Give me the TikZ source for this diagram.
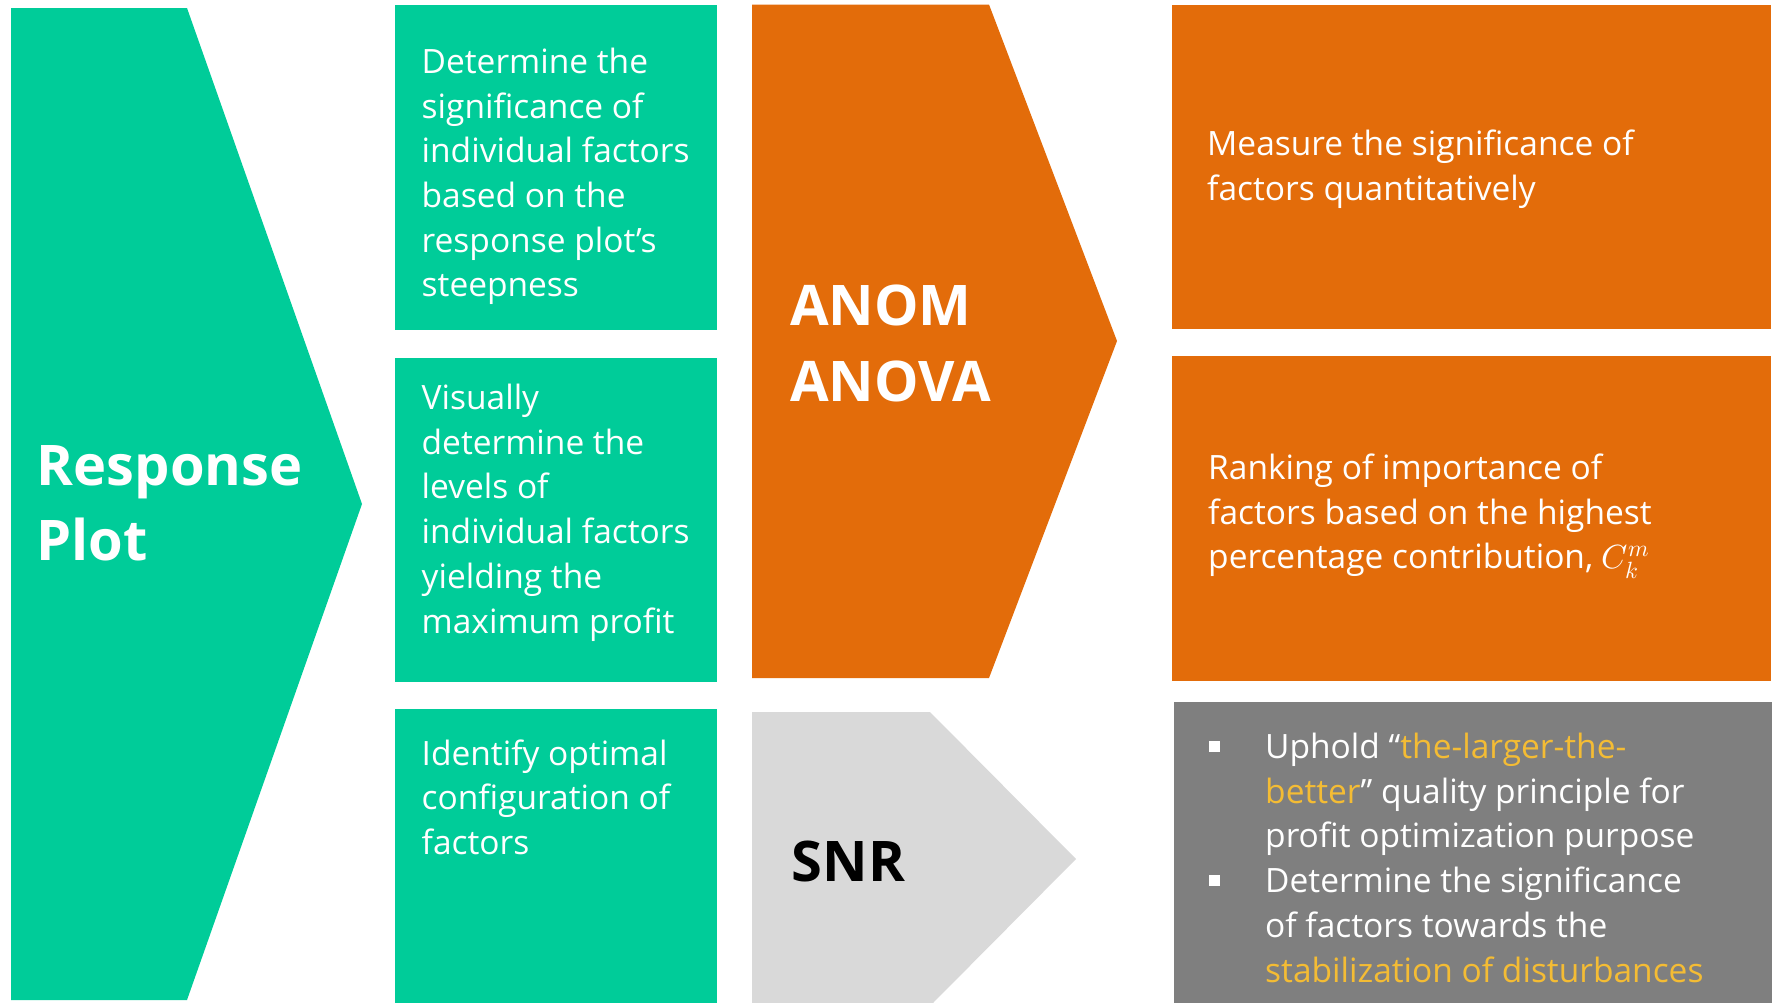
\documentclass[tikz,border=0pt]{standalone}
\usepackage{fontspec}
\usepackage{unicode-math}
\setmainfont{Open Sans}
\setmathfont{Latin Modern Math}
\definecolor{rpgreen}{RGB}{0,204,153}
\definecolor{anomorange}{RGB}{227,108,10}
\definecolor{snrgray}{RGB}{217,217,217}
\definecolor{notegray}{RGB}{127,127,127}
\definecolor{gold}{RGB}{244,188,52}
% first-line baseline is the node's base, further lines hang below
\newcommand\txtblock[2]{\parbox[t]{#1pt}{\raggedright #2}}
\begin{document}
\begin{tikzpicture}[x=1pt,y=-1pt,
  bodytext/.style={anchor=base west,inner sep=0pt,text=white,
    font=\fontsize{33.5}{44.7}\selectfont},
  headtext/.style={anchor=base west,inner sep=0pt,text=white,
    font=\fontsize{56}{75}\selectfont\bfseries},
  bulletsq/.style={fill=white,inner sep=0pt,minimum size=11pt,draw=none}]
\useasboundingbox (0,0) rectangle (1783,1002);
\clip (0,0) rectangle (1783,1002);

% left column: large chevron
\fill[rpgreen] (11,8) -- (187,8) -- (362,504) -- (187,1000) -- (11,1000) -- cycle;
% green description boxes
\fill[rpgreen] (394.5,4.5) rectangle (717,329.5);
\fill[rpgreen] (394.5,358) rectangle (717,682);
\fill[rpgreen] (394.5,708.5) rectangle (717,1010);
% middle chevrons
\fill[anomorange] (752,4.5) -- (989,4.5) -- (1117,341) -- (989,678) -- (752,678) -- cycle;
\fill[snrgray] (752,712) -- (930,712) -- (1076,859) -- (930,1006) -- (752,1006) -- cycle;
% right column boxes
\fill[anomorange] (1172,4.5) rectangle (1771,329);
\fill[anomorange] (1172,356) rectangle (1771,681);
\fill[notegray] (1174,702) rectangle (1772,1010);

% headings
\node[headtext,font=\fontsize{56}{74.3}\selectfont\bfseries] (rp) at (36.5,485.7)
  {\txtblock{320}{Response\\Plot}};
\node[headtext,font=\fontsize{56}{76.7}\selectfont\bfseries] (anom) at (790,325)
  {\txtblock{320}{ANOM\\ANOVA}};
\node[headtext,text=black] (snr) at (791.5,881.7) {SNR};

% green column text
\node[bodytext] (g1) at (421.5,73.3) {\txtblock{300}{Determine the\\significance of\\individual factors\\based on the\\response plot’s\\steepness}};
\node[bodytext] (g2) at (421.5,409.5) {\txtblock{300}{Visually\\determine the\\levels of\\individual factors\\yielding the\\maximum profit}};
\node[bodytext] (g3) at (421.5,765) {\txtblock{300}{Identify optimal\\configuration of\\factors}};

% orange column text
\node[bodytext] (o1) at (1207,155.5) {\txtblock{560}{Measure the significance of\\factors quantitatively}};
\node[bodytext] (o2) at (1208,479.5) {\txtblock{560}{Ranking of importance of\\factors based on the highest\\percentage contribution, \(C_k^m\)}};

% gray box: bullet list
\node[bulletsq] (b1) at (1214,746) {};
\node[bulletsq] (b2) at (1214,880) {};
\node[bodytext] (s1) at (1265,758.5) {\txtblock{500}{Uphold “\textcolor{gold}{the-larger-the-}\\\textcolor{gold}{better}” quality principle for\\profit optimization purpose\\Determine the significance\\of factors towards the\\\textcolor{gold}{stabilization of disturbances}}};
\end{tikzpicture}
\end{document}
